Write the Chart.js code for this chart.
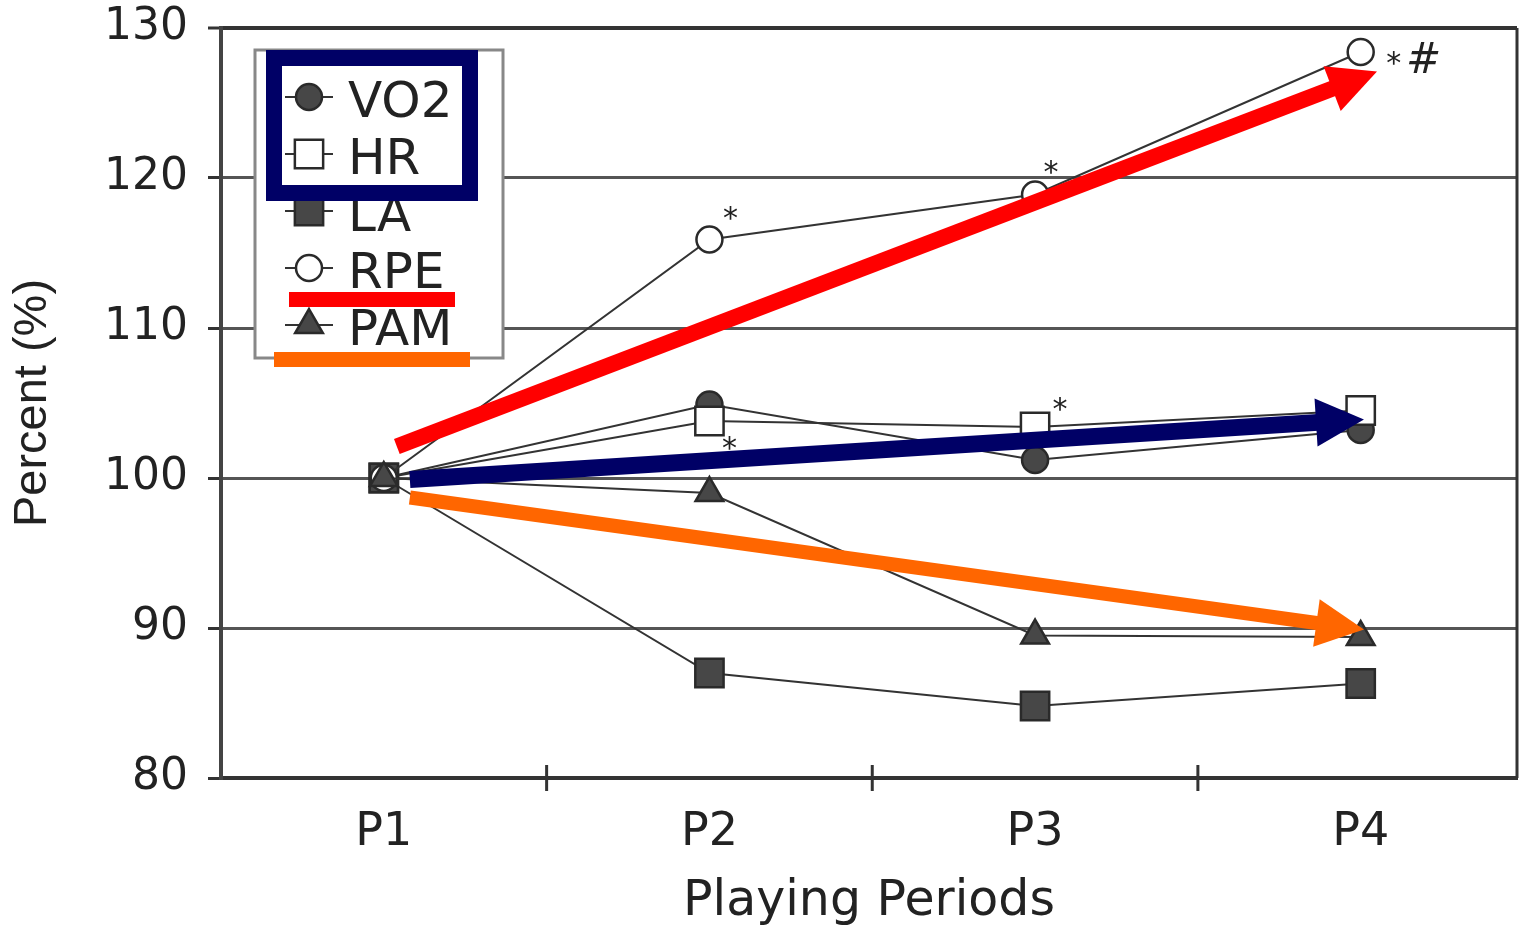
<!DOCTYPE html>
<html>
<head>
<meta charset="utf-8">
<script src="https://cdn.jsdelivr.net/npm/chart.js@4"></script>
<style>
  html, body { margin: 0; padding: 0; background: #fff; }
  #wrap { width: 1520px; height: 927px; }
</style>
</head>
<body>
<div id="wrap"><canvas id="period_chart"></canvas></div>
<script>
// values (percent of P1)
const periods = ["P1", "P2", "P3", "P4"];
const vo2 = [100, 104.9, 101.2, 103.2];
const hr = [100, 103.8, 103.4, 104.5];
const la = [100, 87.0, 84.8, 86.3];
const rpe = [100, 115.9, 118.9, 128.4];
const pam = [100, 99.0, 89.5, 89.4];
const y_ticks = [80, 90, 100, 110, 120, 130];

const series = [
  { label: "VO2", values: vo2, style: "circle", radius: 13, filled: true },
  { label: "HR", values: hr, style: "rect", radius: 20, filled: false },
  { label: "LA", values: la, style: "rect", radius: 20, filled: true },
  { label: "RPE", values: rpe, style: "circle", radius: 13, filled: false },
  { label: "PAM", values: pam, style: "triangle", radius: 16, filled: true },
];

// significance marks, placed next to a point (series index, period index)
const notes = [
  { series: 3, index: 1, text: "*", dx: 21, dy: -28 },
  { series: 1, index: 1, text: "*", dx: 20, dy: 21 },
  { series: 3, index: 2, text: "*", dx: 16, dy: -29 },
  { series: 1, index: 2, text: "*", dx: 25, dy: -24 },
  { series: 3, index: 3, text: "*", dx: 33, dy: 5 },
  { series: 3, index: 3, text: "#", dx: 63, dy: 6 },
];

// trend arrows drawn over the chart, ends given as [period index, percent]
const trend_arrows = [
  { from: [0.04, 102.1], to: [3.05, 127.1], color: "#ff0000", width: 16 },
  { from: [0.08, 99.9], to: [3.01, 103.9], color: "#000066", width: 17 },
  { from: [0.08, 98.7], to: [3.01, 89.9], color: "#ff6600", width: 14 },
];
const HEAD_LEN = 48;
const HEAD_HALF = 24;

const FILL_DARK = "#474747";
const LINE_DARK = "#2a2a2a";

const draw_marker = (ctx, s, x, y) => {
  const r = s.radius;
  ctx.beginPath();
  if (s.style === "circle") {
    ctx.arc(x, y, r, 0, Math.PI * 2);
  } else if (s.style === "rect") {
    const h = r * Math.SQRT1_2;
    ctx.rect(x - h, y - h, 2 * h, 2 * h);
  } else {
    ctx.moveTo(x, y - r);
    ctx.lineTo(x + r * 0.866, y + r * 0.5);
    ctx.lineTo(x - r * 0.866, y + r * 0.5);
    ctx.closePath();
  }
  ctx.fillStyle = s.filled ? FILL_DARK : "#ffffff";
  ctx.fill();
  ctx.lineWidth = 2.5;
  ctx.strokeStyle = LINE_DARK;
  ctx.stroke();
};

const draw_arrow = (ctx, from, to, color, width) => {
  const dx = to[0] - from[0];
  const dy = to[1] - from[1];
  const len = Math.hypot(dx, dy);
  const ux = dx / len, uy = dy / len;
  const bx = to[0] - ux * HEAD_LEN, by = to[1] - uy * HEAD_LEN;
  ctx.save();
  ctx.strokeStyle = color;
  ctx.lineWidth = width;
  ctx.lineCap = "butt";
  ctx.beginPath();
  ctx.moveTo(from[0], from[1]);
  ctx.lineTo(bx + ux * 2, by + uy * 2);
  ctx.stroke();
  ctx.fillStyle = color;
  ctx.beginPath();
  ctx.moveTo(to[0], to[1]);
  ctx.lineTo(bx - uy * HEAD_HALF, by + ux * HEAD_HALF);
  ctx.lineTo(bx + uy * HEAD_HALF, by - ux * HEAD_HALF);
  ctx.closePath();
  ctx.fill();
  ctx.restore();
};

// legend box layout (pixels)
const legend_box = { left: 255, top: 50, right: 503, bottom: 358, marker_x: 309, text_x: 348, first_row: 97, row_gap: 57 };

// scales should not push the plot area in for label overflow
const no_padding = (scale) => {
  scale.paddingTop = 0;
  scale.paddingBottom = 0;
  scale.paddingLeft = 0;
  scale.paddingRight = 0;
};

const frame_plugin = {
  id: "frame",
  beforeDatasetsDraw: (chart) => {
    const { ctx, chartArea } = chart;
    const xs = chart.scales.x;
    ctx.save();
    ctx.strokeStyle = "#333";
    ctx.lineWidth = 3;
    // right edge of the frame
    ctx.beginPath();
    ctx.moveTo(chartArea.right, chartArea.top);
    ctx.lineTo(chartArea.right, chartArea.bottom);
    ctx.stroke();
    // tick marks between the periods
    for (let i = 0; i < periods.length - 1; i++) {
      const px = xs.getPixelForValue(i + 0.5);
      ctx.beginPath();
      ctx.moveTo(px, chartArea.bottom - 13);
      ctx.lineTo(px, chartArea.bottom + 13);
      ctx.stroke();
    }
    ctx.restore();
  },
  afterDatasetsDraw: (chart) => {
    const { ctx } = chart;
    ctx.save();
    ctx.fillStyle = "#222";
    ctx.textAlign = "center";
    ctx.textBaseline = "alphabetic";
    notes.forEach((n) => {
      const pt = chart.getDatasetMeta(n.series).data[n.index];
      if (n.text === "#") {
        ctx.font = 'italic 42px "DejaVu Sans"';
        ctx.fillText(n.text, pt.x + n.dx, pt.y + n.dy + 15);
      } else {
        ctx.font = '30px "DejaVu Sans"';
        ctx.fillText(n.text, pt.x + n.dx, pt.y + n.dy + 16);
      }
    });
    ctx.restore();

    trend_arrows.forEach((a) => {
      const p0 = [chart.scales.x.getPixelForValue(a.from[0]), chart.scales.y.getPixelForValue(a.from[1])];
      const p1 = [chart.scales.x.getPixelForValue(a.to[0]), chart.scales.y.getPixelForValue(a.to[1])];
      draw_arrow(ctx, p0, p1, a.color, a.width);
    });
  },
  afterDraw: (chart) => {
    const { ctx } = chart;
    const b = legend_box;
    ctx.save();
    ctx.fillStyle = "#fff";
    ctx.fillRect(b.left, b.top, b.right - b.left, b.bottom - b.top);
    ctx.strokeStyle = "#888";
    ctx.lineWidth = 3;
    ctx.strokeRect(b.left, b.top, b.right - b.left, b.bottom - b.top);

    series.forEach((s, i) => {
      const y = b.first_row + i * b.row_gap;
      ctx.strokeStyle = "#333";
      ctx.lineWidth = 2;
      ctx.beginPath();
      ctx.moveTo(b.marker_x - 24, y);
      ctx.lineTo(b.marker_x + 24, y);
      ctx.stroke();
      draw_marker(ctx, s, b.marker_x, y);
      ctx.fillStyle = "#222";
      ctx.font = '50px "DejaVu Sans"';
      ctx.textAlign = "left";
      ctx.textBaseline = "alphabetic";
      ctx.fillText(s.label, b.text_x, y + 20);
    });

    // highlight marks over the legend
    ctx.strokeStyle = "#000066";
    ctx.lineWidth = 16;
    ctx.strokeRect(274, 58, 196, 135);
    ctx.fillStyle = "#ff0000";
    ctx.fillRect(289, 292, 166, 15);
    ctx.fillStyle = "#ff6600";
    ctx.fillRect(274, 352, 196, 15);
    ctx.restore();
  },
};

const chart_data = {
  datasets: series.map((s, i) => ({
    label: s.label,
    data: s.values.map((v, j) => ({ x: j, y: v })),
    borderColor: "#333",
    borderWidth: 2,
    pointStyle: s.style,
    pointRadius: s.radius,
    pointBackgroundColor: s.filled ? FILL_DARK : "#ffffff",
    pointBorderColor: LINE_DARK,
    pointBorderWidth: 2.5,
    order: series.length - i,
    tension: 0,
  })),
};

Chart.defaults.font.family = '"DejaVu Sans"';
Chart.defaults.color = "#222";

const config_periods = {
  type: "line",
  data: chart_data,
  options: {
    responsive: true,
    maintainAspectRatio: false,
    animation: false,
    events: [],
    layout: { autoPadding: false, padding: { top: 28, right: 3, left: 0, bottom: 0 } },
    plugins: {
      legend: { display: false },
      tooltip: { enabled: false },
    },
    scales: {
      x: {
        type: "linear",
        min: -0.5,
        max: 3.48,
        afterBuildTicks: (scale) => {
          scale.ticks = periods.map((p, i) => ({ value: i }));
        },
        afterFit: (scale) => {
          scale.height = 149;
          no_padding(scale);
        },
        ticks: {
          autoSkip: false,
          padding: 27,
          font: { size: 46 },
          callback: (value) => periods[value],
        },
        grid: { display: false, drawTicks: false },
        border: { color: "#333", width: 4 },
        title: {
          display: true,
          text: "Playing Periods",
          font: { size: 49, lineHeight: 1.0 },
          padding: { top: 0, bottom: 0 },
        },
      },
      y: {
        min: 80,
        max: 130,
        afterBuildTicks: (scale) => {
          scale.ticks = y_ticks.map((v) => ({ value: v }));
        },
        afterFit: (scale) => {
          scale.width = 221;
          no_padding(scale);
        },
        ticks: {
          padding: 20,
          font: { size: 44 },
        },
        grid: {
          color: (c) => (c.tick && c.tick.value === 130 ? "#333" : "#555"),
          lineWidth: (c) => (c.tick && c.tick.value === 130 ? 4 : 3),
          tickLength: 13,
          tickColor: "#333",
          tickWidth: 3,
        },
        border: { color: "#444", width: 4 },
        title: {
          display: true,
          text: "Percent (%)",
          font: { size: 47, family: '"Liberation Sans"' },
          padding: { top: 5, bottom: 0 },
        },
      },
    },
  },
  plugins: [frame_plugin],
};

var ctx_periods = document.getElementById("period_chart");
var period_chart = new Chart(ctx_periods, config_periods);
</script>
</body>
</html>
